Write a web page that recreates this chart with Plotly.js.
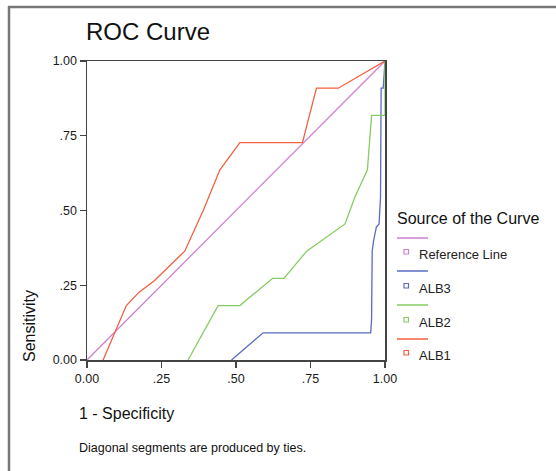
<!DOCTYPE html>
<html>
<head>
<meta charset="utf-8">
<script src="https://cdn.plot.ly/plotly-3.0.1.min.js"></script>
<style>html,body{margin:0;padding:0;background:#fff;}#chart{width:556px;height:471px;}</style>
</head>
<body>
<div id="chart"></div>
<script>
// ---- data ----
var refX = [0, 1];
var refY = [0, 1];
var alb3X = [0.485, 0.591, 0.952, 0.955, 0.957, 0.962, 0.971, 0.980, 0.985, 0.987, 0.994, 1.0];
var alb3Y = [0, 0.091, 0.091, 0.136, 0.364, 0.40, 0.445, 0.455, 0.545, 0.909, 0.909, 1.0];
var alb2X = [0.339, 0.440, 0.513, 0.623, 0.661, 0.737, 0.866, 0.899, 0.941, 0.955, 1.0, 1.0];
var alb2Y = [0, 0.182, 0.182, 0.273, 0.273, 0.364, 0.455, 0.545, 0.636, 0.818, 0.818, 1.0];
var alb1X = [0.054, 0.132, 0.175, 0.227, 0.280, 0.328, 0.390, 0.446, 0.513, 0.723, 0.770, 0.843, 1.0];
var alb1Y = [0, 0.182, 0.227, 0.266, 0.318, 0.364, 0.500, 0.636, 0.727, 0.727, 0.909, 0.909, 1.0];
var tickVals = [0, 0.25, 0.5, 0.75, 1];
var xTickText = ["0.00", ".25", ".50", ".75", "1.00"];
var yTickText = ["0.00", ".25", ".50", ".75", "1.00"];
var seriesNames = ["Reference Line", "ALB3", "ALB2", "ALB1"];
var seriesColors = ["#cf80cf", "#5a6bc2", "#86cc62", "#f2603f"];

// ---- layout helpers ----
var W = 556, H = 471, L = 87, R = 171, T = 61, B = 111;
var PW = W - L - R, PH = H - T - B;
function px(x) { return (x - L) / PW; }
function py(y) { return (H - B - y) / PH; }
var FONT = "Liberation Sans, Arial, sans-serif";

var series = [[refX, refY], [alb3X, alb3Y], [alb2X, alb2Y], [alb1X, alb1Y]];
var traces = series.map(function (s, i) {
  return {
    x: s[0], y: s[1], type: 'scatter', mode: 'lines', name: seriesNames[i],
    line: { color: seriesColors[i], width: 1.3 }, hoverinfo: 'skip', showlegend: false
  };
});

var shapes = [
  // outer frame (top & left)
  { type: 'line', xref: 'paper', yref: 'paper', x0: px(8), x1: px(556), y0: py(7), y1: py(7), line: { color: '#777', width: 2.5 } },
  { type: 'line', xref: 'paper', yref: 'paper', x0: px(9), x1: px(9), y0: py(6), y1: py(472), line: { color: '#777', width: 2.5 } }
];
var annotations = [
  { text: 'ROC Curve', xref: 'paper', yref: 'paper', x: px(84), y: py(31), xanchor: 'left', yanchor: 'middle', showarrow: false, font: { family: FONT, size: 24, color: '#111' } },
  { text: 'Source of the Curve', xref: 'paper', yref: 'paper', x: px(395), y: py(218), xanchor: 'left', yanchor: 'middle', showarrow: false, font: { family: FONT, size: 16, color: '#111' } },
  { text: 'Sensitivity', xref: 'paper', yref: 'paper', x: px(29), y: py(326), xanchor: 'center', yanchor: 'middle', textangle: -90, showarrow: false, font: { family: FONT, size: 16, color: '#111' } },
  { text: '1 - Specificity', xref: 'paper', yref: 'paper', x: px(77), y: py(413), xanchor: 'left', yanchor: 'middle', showarrow: false, font: { family: FONT, size: 16, color: '#111' } },
  { text: 'Diagonal segments are produced by ties.', xref: 'paper', yref: 'paper', x: px(77), y: py(448), xanchor: 'left', yanchor: 'middle', showarrow: false, font: { family: FONT, size: 12.5, color: '#111' } }
];
var lineYs = [238, 271, 305, 339];
var textYs = [254, 288, 322, 355];
seriesNames.forEach(function (n, i) {
  shapes.push({ type: 'line', xref: 'paper', yref: 'paper', x0: px(397), x1: px(428), y0: py(lineYs[i]), y1: py(lineYs[i]), line: { color: seriesColors[i], width: 1.5 } });
  shapes.push({ type: 'rect', xref: 'paper', yref: 'paper', x0: px(404), x1: px(408.5), y0: py(textYs[i] - 4.5), y1: py(textYs[i] - 0), line: { color: seriesColors[i], width: 1.2 }, fillcolor: 'rgba(0,0,0,0)' });
  annotations.push({ text: n, xref: 'paper', yref: 'paper', x: px(417), y: py(textYs[i]), xanchor: 'left', yanchor: 'middle', showarrow: false, font: { family: FONT, size: 13, color: '#222' } });
});

var axisCommon = {
  range: [0, 1], tickvals: tickVals, showgrid: false, zeroline: false,
  showline: true, mirror: true, linecolor: '#444', linewidth: 1.5,
  ticks: 'outside', ticklen: 6, tickwidth: 1.3, tickcolor: '#444',
  tickfont: { family: FONT, size: 12.5, color: '#1a1a1a' }, fixedrange: true,
  layer: 'below traces'
};
var layout = {
  width: W, height: H,
  margin: { l: L, r: R, t: T, b: B, pad: 0 },
  paper_bgcolor: '#fff', plot_bgcolor: '#fff',
  xaxis: Object.assign({}, axisCommon, { ticktext: xTickText }),
  yaxis: Object.assign({}, axisCommon, { ticktext: yTickText }),
  showlegend: false,
  shapes: shapes,
  annotations: annotations
};
Plotly.newPlot('chart', traces, layout, { staticPlot: true, displayModeBar: false });
</script>
</body>
</html>
